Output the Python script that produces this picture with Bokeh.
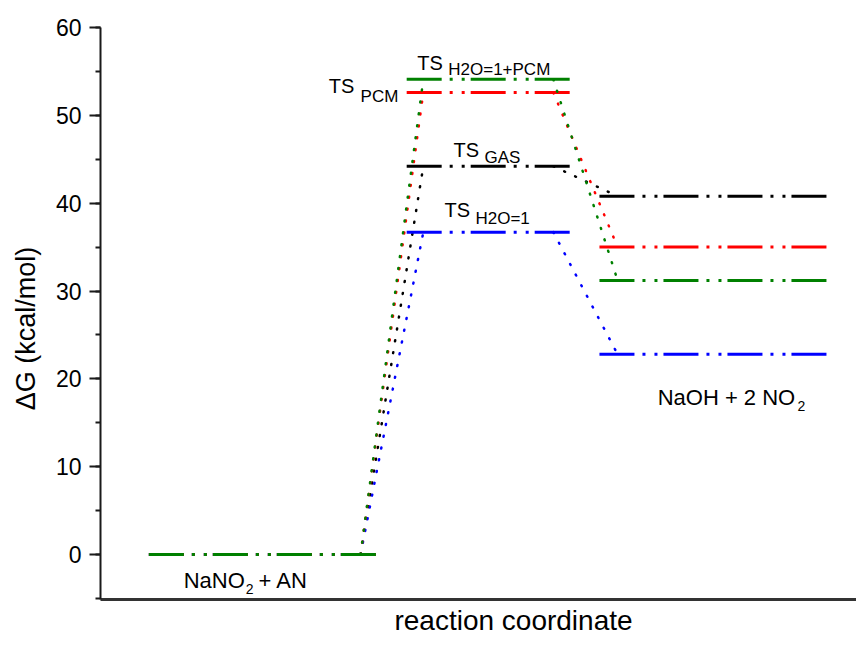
from bokeh.plotting import figure
from bokeh.models import Range1d, Label, SingleIntervalTicker, FixedTicker
from bokeh.embed import file_html
from bokeh.resources import INLINE

# ---- data (kcal/mol) ----
series = ["GAS", "H2O=1", "PCM", "H2O=1+PCM"]
reactant_G = [0.0, 0.0, 0.0, 0.0]
ts_G = [44.2, 36.7, 52.6, 54.1]
product_G = [40.8, 22.8, 35.0, 31.2]

# ---- layout / style (not data) ----
COLORS = {"GAS": "#000000", "H2O=1": "#0000ff", "PCM": "#ff0000", "H2O=1+PCM": "#008000"}
REACT_SPAN = (0.64, 3.66)
TS_SPAN = (4.05, 6.22)
PROD_SPAN = (6.60, 9.63)
LEFT_CONN = (3.44, 4.27)
RIGHT_CONN = (5.99, 6.84)
FONT = "Liberation Sans"
LEVEL_DASH = "35 8 3 9 3 6"

p = figure(width=856, height=638, x_range=Range1d(0, 10), y_range=Range1d(-5.12, 60),
           output_backend="svg", toolbar_location=None,
           min_border_left=100, min_border_right=0, min_border_top=27, min_border_bottom=39)
p.grid.visible = False
p.outline_line_color = None
p.background_fill_color = "white"
p.border_fill_color = "white"

# y axis
ya = p.yaxis[0]
ya.ticker = SingleIntervalTicker(interval=10, num_minor_ticks=2)
ya.major_tick_out = 11
ya.major_tick_in = 0
ya.minor_tick_out = 5
ya.minor_tick_in = 0
ya.axis_line_width = 2
ya.major_tick_line_width = 2
ya.minor_tick_line_width = 2
ya.axis_line_color = "#1a1a1a"
ya.major_tick_line_color = "#1a1a1a"
ya.minor_tick_line_color = "#1a1a1a"
ya.major_label_text_font = FONT
ya.major_label_text_font_size = "23px"
ya.major_label_text_color = "#000000"
ya.major_label_standoff = 8
ya.axis_label = "ΔG (kcal/mol)" + "\u00a0" * 4
ya.axis_label_text_font = FONT
ya.axis_label_text_font_size = "27px"
ya.axis_label_text_font_style = "normal"
ya.axis_label_text_color = "#000000"
ya.axis_label_standoff = 12

# x axis: plain line with title
xa = p.xaxis[0]
xa.ticker = FixedTicker(ticks=[])
xa.major_tick_out = 0
xa.major_tick_in = 0
xa.major_tick_line_color = None
xa.minor_tick_line_color = None
xa.major_label_text_font_size = "0px"
xa.major_label_standoff = 0
xa.axis_line_width = 3
xa.axis_line_color = "#333333"
xa.axis_label = "\u00a0" * 9 + "reaction coordinate"
xa.axis_label_text_font = FONT
xa.axis_label_text_font_size = "28px"
xa.axis_label_text_font_style = "normal"
xa.axis_label_text_color = "#000000"
xa.axis_label_standoff = 5

for name, g0, g1, g2 in zip(series, reactant_G, ts_G, product_G):
    c = COLORS[name]
    # levels
    p.line(list(REACT_SPAN), [g0, g0], line_color=c, line_width=3, line_dash=LEVEL_DASH)
    p.line(list(TS_SPAN), [g1, g1], line_color=c, line_width=3, line_dash=LEVEL_DASH)
    p.line(list(PROD_SPAN), [g2, g2], line_color=c, line_width=3, line_dash=LEVEL_DASH)
    # dotted connectors
    p.line(list(LEFT_CONN), [g0, g1], line_color=c, line_width=2.5, line_dash="1 11", line_cap="round")
    p.line(list(RIGHT_CONN), [g1, g2], line_color=c, line_width=2.5, line_dash="1 11", line_cap="round")

def lab(x, y, text, size, **kw):
    p.add_layout(Label(x=x, y=y, text=text, text_font=FONT, text_font_size=size,
                       text_color="#000000", text_baseline="alphabetic", **kw))

# TS labels
lab(4.19, 56.0, "TS", "20px")
lab(4.60, 55.2, "H2O=1+PCM", "17px")
lab(3.02, 53.3, "TS", "20px")
lab(3.44, 52.15, "PCM", "17px")
lab(4.67, 46.1, "TS", "20px")
lab(5.08, 45.2, "GAS", "17px")
lab(4.55, 39.2, "TS", "20px")
lab(4.96, 38.25, "H2O=1", "17px")

# products / reactants
lab(7.37, 17.9, "NaOH + 2 NO", "22px")
lab(9.22, 16.96, "2", "14px")
lab(1.10, -2.96, "NaNO", "22px")
lab(1.92, -3.87, "2", "14px")
lab(2.09, -2.96, "+ AN", "22px")

open("out.html", "w").write(file_html(p, INLINE))
